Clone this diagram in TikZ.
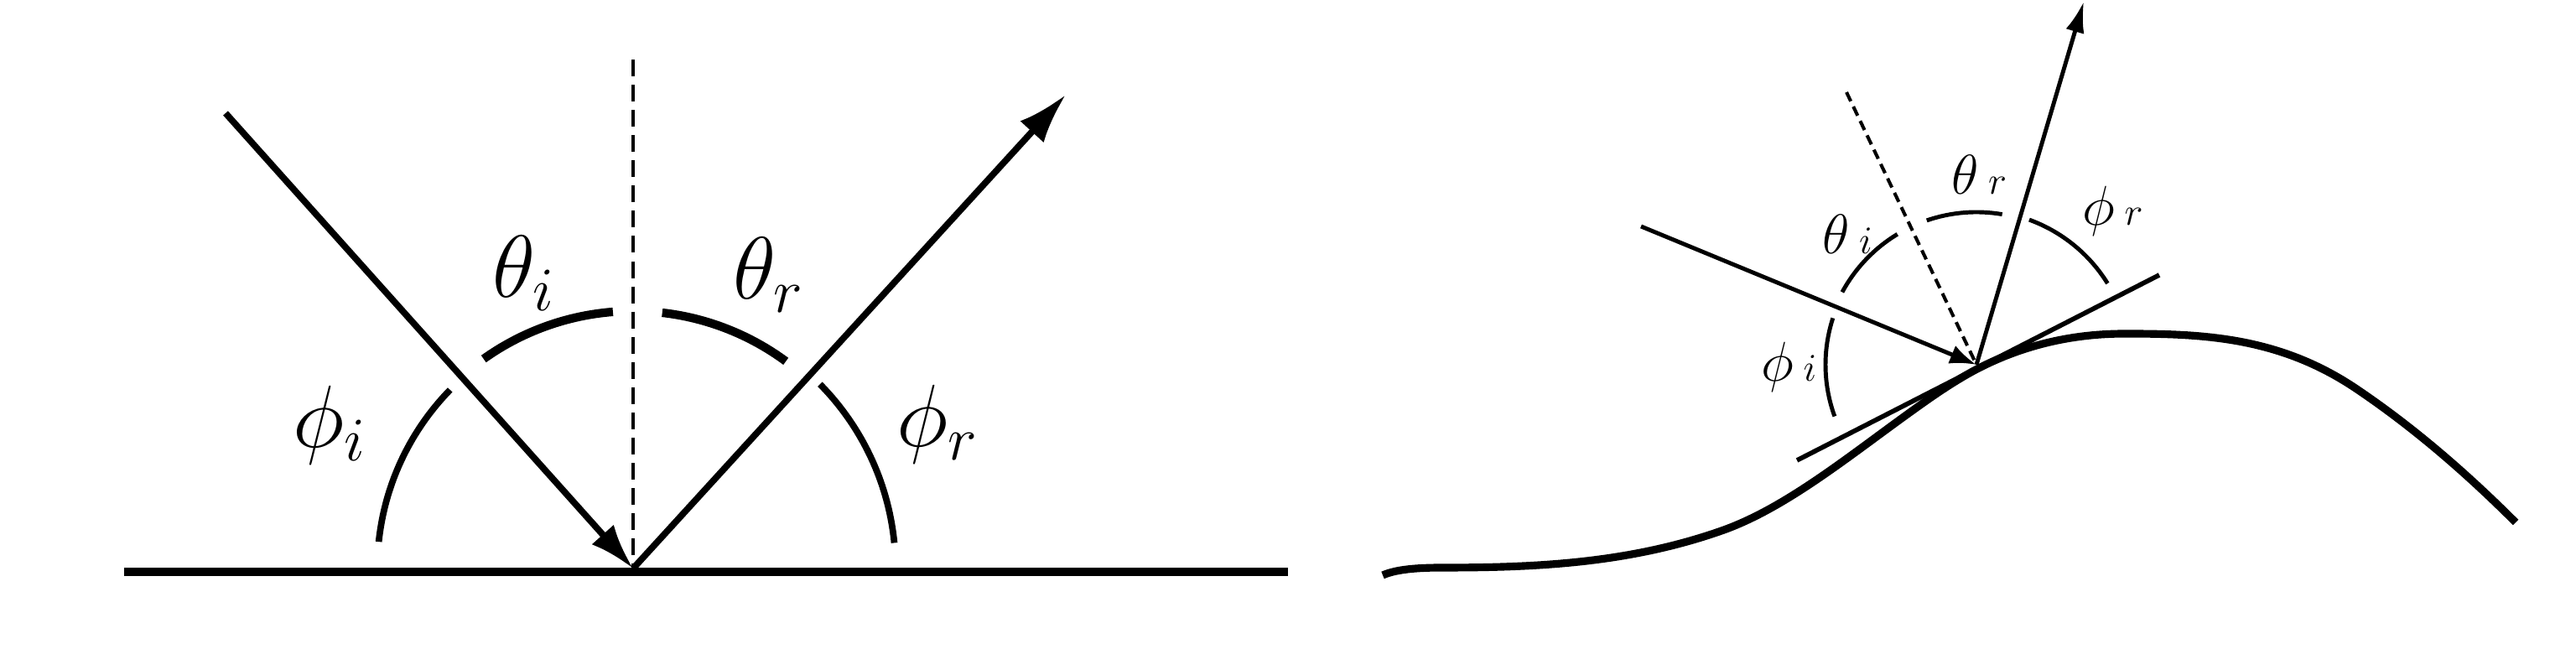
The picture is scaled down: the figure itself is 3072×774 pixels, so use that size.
\documentclass[tikz,border=0pt]{standalone}
\usepackage{fix-cm}
\usetikzlibrary{arrows.meta}
\begin{document}
\begin{tikzpicture}[x=0.01cm,y=0.01cm,
  groundline/.style={line width=2.8pt},
  bigray/.style={line width=2.2pt},
  bignormal/.style={line width=1.25pt, dash pattern=on 5.7pt off 2.85pt},
  bigtheta/.style={line width=2.9pt},
  bigphi/.style={line width=2.2pt},
  biglabel/.style={inner sep=0pt, anchor=base west, font=\fontsize{30}{36}\selectfont},
  surface/.style={line width=2.6pt, line join=round},
  tangentline/.style={line width=1.6pt},
  smallray/.style={line width=1.4pt},
  smallnormal/.style={line width=1.15pt, dash pattern=on 3.4pt off 2pt},
  smallarc/.style={line width=1.4pt},
  smalllabel/.style={inner sep=0pt, anchor=base west, font=\fontsize{19}{23}\selectfont}
]
\useasboundingbox (0,0) rectangle (3072,774);

% ---------------- left: flat surface ----------------
\coordinate (G1) at (148,92);
\coordinate (G2) at (1536,92);
\coordinate (P) at (755,96);
\coordinate (A) at (269,639);
\coordinate (B) at (1271,661);
\coordinate (N) at (755,703);

\draw[groundline] (G1) -- (G2);
\draw[bignormal] (N) -- (P);
\draw[bigray, -{Latex[length=15.4pt,width=10pt]}] (A) -- (P);
\draw[bigray, -{Latex[length=17pt,width=10.8pt]}] (P) -- (B);

\draw[bigtheta] ([shift={(94.5:307)}]P) arc[start angle=94.5, end angle=125.5, radius=307];
\draw[bigtheta] ([shift={(53.6:307)}]P) arc[start angle=53.6, end angle=83.5, radius=307];
\draw[bigphi] ([shift={(135.7:305)}]P) arc[start angle=135.7, end angle=174, radius=305];
\draw[bigphi] ([shift={(5.6:313)}]P) arc[start angle=5.6, end angle=44.6, radius=313];

\node[biglabel] (ti) at (587,419) {$\theta_i$};
\node[biglabel] (tr) at (874,417) {$\theta_r$};
\node[biglabel] (pi) at (349,240) {$\phi_i$};
\node[biglabel] (pr) at (1069,241) {$\phi_r$};

% ---------------- right: curved surface ----------------
\coordinate (Q) at (2357,339);
\coordinate (C) at (1957,504);
\coordinate (M) at (2202,664);
\coordinate (R) at (2485,772);
\coordinate (T1) at (2143,225);
\coordinate (T2) at (2575,446);

\draw[surface] (1649,88) .. controls (1665,95) and (1690,97) .. (1720,97)
  .. controls (1831,97) and (1942,102) .. (2053,141)
  .. controls (2130,168) and (2206,231) .. (2283,286)
  .. controls (2307,303.3) and (2332,320.3) .. (2356,333)
  .. controls (2415,364) and (2475,376) .. (2534,376)
  .. controls (2626,376) and (2717,372.6) .. (2809,311)
  .. controls (2873,268) and (2936,215) .. (3000,151);
\draw[tangentline] (T1) -- (T2);
\draw[smallnormal] (M) -- (Q);
\draw[smallray, -{Latex[length=9pt,width=6.6pt]}] (C) -- (Q);
\draw[smallray, -{Latex[length=10.5pt,width=6.4pt]}] (Q) -- (R);

\draw[smallarc] ([shift={(121.2:182)}]Q) arc[start angle=121.2, end angle=151.6, radius=182];
\draw[smallarc] ([shift={(80.3:182)}]Q) arc[start angle=80.3, end angle=109, radius=182];
\draw[smallarc] ([shift={(31.8:184)}]Q) arc[start angle=31.8, end angle=70, radius=184];
\draw[smallarc] ([shift={(162:180)}]Q) arc[start angle=162, end angle=200, radius=180];

\node[smalllabel] (sti) at (2173,471) {$\theta\,{\scriptstyle i}$};
\node[smalllabel] (str) at (2327,542) {$\theta\,{\scriptstyle r}$};
\node[smalllabel] (spr) at (2483,505) {$\phi\,{\scriptstyle r}$};
\node[smalllabel] (spi) at (2100,319) {$\phi\,{\scriptstyle i}$};
\end{tikzpicture}
\end{document}
